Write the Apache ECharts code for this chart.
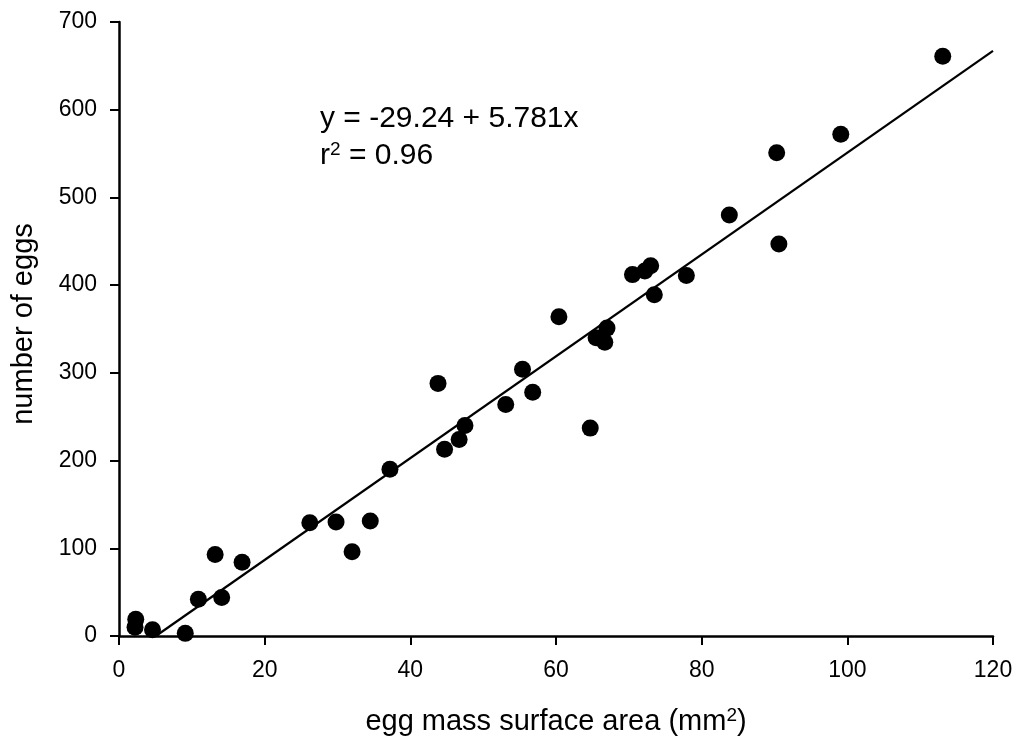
<!DOCTYPE html>
<html>
<head>
<meta charset="utf-8">
<script src="https://cdn.jsdelivr.net/npm/echarts@6/dist/echarts.min.js"></script>
<style>html,body{margin:0;padding:0;background:#fff;}#chart{width:1020px;height:747px;}</style>
</head>
<body>
<div id="chart"></div>
<script>
// egg mass surface area (mm^2)
const areaX = [2.3, 2.2, 4.6, 9.1, 10.9, 13.2, 14.1, 16.9, 26.2, 29.8, 32.0, 34.5,
  37.2, 43.8, 44.7, 46.7, 47.5, 53.1, 55.4, 56.8, 60.4, 64.7, 65.5, 66.7, 67.0,
  70.5, 72.2, 73.0, 73.5, 77.9, 83.8, 90.3, 90.6, 99.1, 113.1];
// number of eggs
const eggsY = [19, 10, 7, 3, 42, 93, 44, 84, 129, 130, 96, 131,
  190, 288, 213, 224, 240, 264, 304, 278, 364, 237, 340, 335, 351,
  412, 416, 422, 389, 411, 480, 551, 447, 572, 661];
// fitted line end points
const fitX = [5.06, 120];
const fitY = [0, 667];
const xTicks = [0, 20, 40, 60, 80, 100, 120];
const yTicks = [0, 100, 200, 300, 400, 500, 600, 700];
const eqLine1 = 'y = -29.24 + 5.781x';
const eqR2 = '0.96';

const chart = echarts.init(document.getElementById('chart'), null, {renderer: 'canvas'});
const font = 'Liberation Sans, Arial, sans-serif';
const pts = areaX.map((x, i) => [x, eggsY[i]]);
const fit = fitX.map((x, i) => [x, fitY[i]]);
chart.setOption({
  animation: false,
  backgroundColor: '#fff',
  grid: {left: 119, right: 27, top: 22, bottom: 111, containLabel: false},
  xAxis: {
    type: 'value', min: xTicks[0], max: xTicks[xTicks.length - 1], interval: 20,
    name: 'egg mass surface area (mm{sup|2})',
    nameLocation: 'middle', nameGap: 70,
    nameTextStyle: {fontFamily: font, fontSize: 29, color: '#000',
      rich: {sup: {fontFamily: font, fontSize: 19, color: '#000', verticalAlign: 'top', padding: [0, 0, 13, 0]}}},
    axisLine: {onZero: false, lineStyle: {color: '#000', width: 2.5}},
    axisTick: {show: true, inside: false, length: 9, lineStyle: {color: '#000', width: 2}},
    axisLabel: {fontFamily: font, fontSize: 23, color: '#000', margin: 23},
    splitLine: {show: false}
  },
  yAxis: {
    type: 'value', min: yTicks[0], max: yTicks[yTicks.length - 1], interval: 100,
    name: 'number of eggs', nameLocation: 'middle', nameGap: 81,
    nameTextStyle: {fontFamily: font, fontSize: 29, color: '#000', padding: [0, 0, 0, 10]},
    axisLine: {onZero: false, lineStyle: {color: '#000', width: 2.5}},
    axisTick: {show: true, inside: false, length: 9, lineStyle: {color: '#000', width: 2}},
    axisLabel: {fontFamily: font, fontSize: 23, color: '#000', margin: 22},
    splitLine: {show: false}
  },
  series: [
    {type: 'line', data: fit, symbol: 'none', silent: true,
      lineStyle: {color: '#000', width: 2.2}, z: 2},
    {type: 'scatter', data: pts, symbol: 'circle', symbolSize: 17,
      itemStyle: {color: '#000', opacity: 1}, z: 3}
  ],
  graphic: [
    {type: 'text', left: 320, top: 104, style: {text: eqLine1, font: '30px ' + font, fill: '#000'}},
    {type: 'text', left: 320, top: 140, style: {
      text: 'r{sup|2} = ' + eqR2, font: '30px ' + font, fill: '#000',
      rich: {sup: {fontSize: 19, fontFamily: font, fill: '#000', verticalAlign: 'top', padding: [0, 0, 13, 0]}}}}
  ]
});
</script>
</body>
</html>
